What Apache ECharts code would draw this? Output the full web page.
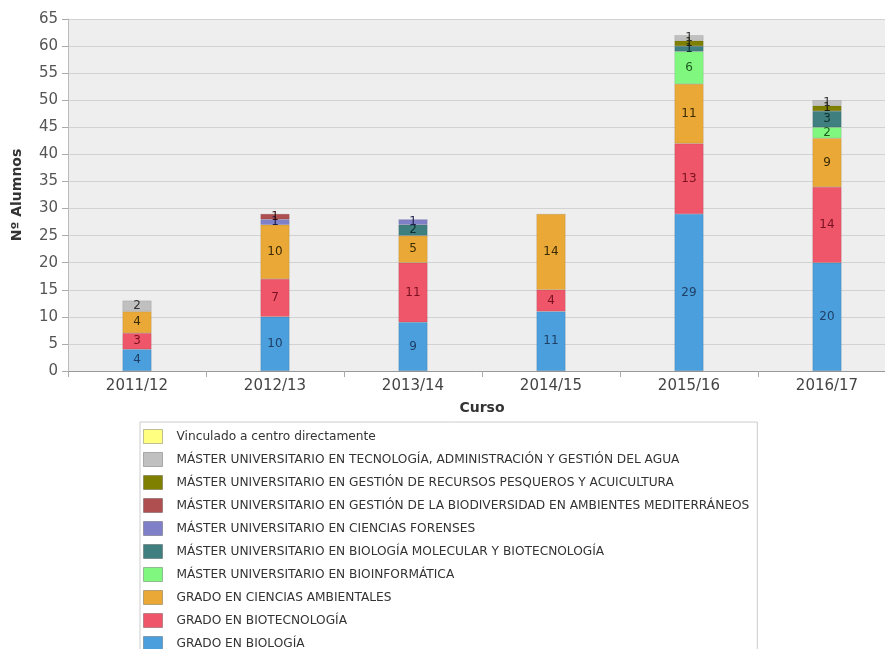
<!DOCTYPE html>
<html>
<head>
<meta charset="utf-8">
<script src="https://cdn.jsdelivr.net/npm/echarts@6/dist/echarts.min.js"></script>
<style>
html, body { margin: 0; padding: 0; background: #fff; }
#chart { width: 885px; height: 649px; }
</style>
</head>
<body>
<div id="chart"></div>
<script>
const cursos = ['2011/12', '2012/13', '2013/14', '2014/15', '2015/16', '2016/17']

// one array per titulacion, stacked bottom to top
const biologia      = [4, 10, 9, 11, 29, 20]
const biotecnologia = [3, 7, 11, 4, 13, 14]
const ambientales   = [4, 10, 5, 14, 11, 9]
const bioinformatica = [null, null, null, null, 6, 2]
const molecular     = [null, null, 2, null, 1, 3]
const forenses      = [null, 1, 1, null, null, null]
const biodiversidad = [null, 1, null, null, null, null]
const pesqueros     = [null, null, null, null, 1, 1]
const agua          = [2, null, null, null, 1, 1]
const vinculado     = [null, null, null, null, null, null]

const yTicks = { min: 0, max: 65, interval: 5 }

const seriesDefs = [
    { name: 'GRADO EN BIOLOGÍA', data: biologia, color: '#4a9fdc', text: '#1f3f66' },
    { name: 'GRADO EN BIOTECNOLOGÍA', data: biotecnologia, color: '#f0566a', text: '#7a1020' },
    { name: 'GRADO EN CIENCIAS AMBIENTALES', data: ambientales, color: '#eaa937', text: '#3a2a00' },
    { name: 'MÁSTER UNIVERSITARIO EN BIOINFORMÁTICA', data: bioinformatica, color: '#80f880', text: '#1f5a1f' },
    { name: 'MÁSTER UNIVERSITARIO EN BIOLOGÍA MOLECULAR Y BIOTECNOLOGÍA', data: molecular, color: '#3f7f7f', text: '#10302f' },
    { name: 'MÁSTER UNIVERSITARIO EN CIENCIAS FORENSES', data: forenses, color: '#8080c8', text: '#202050' },
    { name: 'MÁSTER UNIVERSITARIO EN GESTIÓN DE LA BIODIVERSIDAD EN AMBIENTES MEDITERRÁNEOS', data: biodiversidad, color: '#b04f4f', text: '#301010' },
    { name: 'MÁSTER UNIVERSITARIO EN GESTIÓN DE RECURSOS PESQUEROS Y ACUICULTURA', data: pesqueros, color: '#808000', text: '#202000' },
    { name: 'MÁSTER UNIVERSITARIO EN TECNOLOGÍA, ADMINISTRACIÓN Y GESTIÓN DEL AGUA', data: agua, color: '#c0c0c0', text: '#303030' },
    { name: 'Vinculado a centro directamente', data: vinculado, color: '#ffff80', text: '#404000' }
]

const chart = echarts.init(document.getElementById('chart'))
chart.setOption({
    animation: false,
    textStyle: { fontFamily: 'DejaVu Sans' },
    grid: {
        left: 68,
        top: 19,
        width: 828,
        height: 352,
        outerBoundsMode: 'none',
        show: true,
        backgroundColor: '#eeeeee',
        borderWidth: 0
    },
    legend: {
        orient: 'vertical',
        left: 140,
        top: 422,
        height: 300,
        padding: [7, 8, 12, 3],
        borderColor: '#cccccc',
        borderWidth: 1,
        itemWidth: 19,
        itemHeight: 14,
        itemGap: 8,
        icon: 'rect',
        itemStyle: { borderWidth: 1, borderColor: 'rgba(0,0,0,0.25)' },
        textStyle: {
            fontFamily: 'DejaVu Sans',
            fontSize: 12.2,
            lineHeight: 15,
            color: '#333',
            padding: [0, 0, 0, 9]
        },
        data: seriesDefs.map(s => s.name).reverse()
    },
    xAxis: {
        type: 'category',
        data: cursos,
        name: 'Curso',
        nameLocation: 'middle',
        nameGap: 30,
        nameTextStyle: { fontWeight: 'bold', fontSize: 14, color: '#333' },
        axisLine: { lineStyle: { color: '#999' } },
        axisTick: { show: true, length: 6, lineStyle: { color: '#aaa' } },
        axisLabel: { fontSize: 15, color: '#444', margin: 8 }
    },
    yAxis: {
        type: 'value',
        min: yTicks.min,
        max: yTicks.max,
        interval: yTicks.interval,
        name: 'Nº Alumnos',
        nameLocation: 'middle',
        nameGap: 44,
        nameTextStyle: { fontWeight: 'bold', fontSize: 14, color: '#333' },
        axisLine: { show: true, lineStyle: { color: '#bbb' } },
        axisTick: { show: true, length: 6, lineStyle: { color: '#aaa' } },
        axisLabel: { fontSize: 15, color: '#555', margin: 10 },
        splitLine: { lineStyle: { color: '#d2d2d2' } }
    },
    series: seriesDefs.map(s => ({
        name: s.name,
        type: 'bar',
        stack: 'total',
        barWidth: 29,
        data: s.data,
        itemStyle: { color: s.color, borderColor: 'rgba(0,0,0,0.2)', borderWidth: 0.5 },
        label: {
            show: true,
            position: 'inside',
            fontSize: 12,
            color: s.text
        }
    }))
})
</script>
</body>
</html>
